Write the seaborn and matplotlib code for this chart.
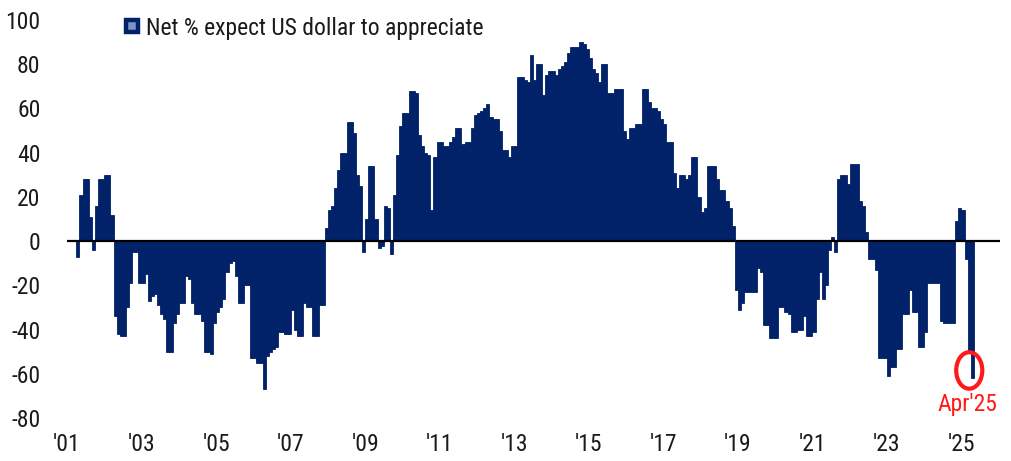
#!/usr/bin/env python3
"""
BofA-style bar chart: net % of fund managers expecting the US dollar to appreciate.
"""
import numpy as np
import pandas as pd
import matplotlib
matplotlib.use("Agg")
import matplotlib.pyplot as plt
import seaborn as sns
from matplotlib import font_manager
from matplotlib.lines import Line2D
from matplotlib.patches import Ellipse

sns.set_style("white")

NAVY = "#012169"
RED = "#ff1a1a"
TEXT = "#1a1a1a"

# monthly series, first value is Apr 2001, last value is Apr 2025
first_year, first_month = 2001, 4
net_pct = [
    -7, 21, 28, 28, 11, -4, 16, 28, 28,                       # 2001 (Apr-Dec)
    30, 30, 12, -34, -42, -43, -43, -30, -19, -5, -5, -19,    # 2002
    -19, -15, -27, -25, -24, -29, -33, -35, -50, -50, -37, -33,  # 2003
    -28, -28, -16, -17, -28, -33, -33, -36, -50, -50, -51, -37,  # 2004
    -32, -30, -26, -14, -10, -9, -16, -28, -28, -20, -20, -53,   # 2005
    -53, -55, -55, -67, -52, -50, -49, -48, -41, -41, -42, -42,  # 2006
    -31, -40, -43, -43, -28, -30, -30, -43, -43, -29, -29, 6,    # 2007
    14, 16, 24, 32, 40, 40, 54, 54, 49, 30, 25, -5,           # 2008
    10, 34, 34, 10, -3, -2, 16, 15, -6, 21, 39, 52,           # 2009
    58, 58, 68, 68, 67, 48, 43, 40, 39, 14, 38, 45,           # 2010
    45, 43, 43, 45, 47, 51, 51, 44, 45, 45, 51, 57,           # 2011
    58, 59, 60, 62, 56, 55, 55, 50, 41, 41, 38, 43,           # 2012
    43, 74, 74, 73, 72, 84, 73, 80, 80, 66, 75, 77,           # 2013
    77, 75, 78, 79, 81, 85, 88, 88, 88, 90, 89, 87,           # 2014
    83, 78, 76, 72, 80, 80, 67, 67, 69, 69, 69, 50,           # 2015
    46, 51, 51, 53, 53, 69, 69, 63, 60, 60, 59, 55,           # 2016
    53, 45, 45, 31, 24, 30, 30, 28, 30, 38, 38, 20,           # 2017
    13, 15, 34, 34, 34, 28, 23, 23, 18, 15, 7, -22,           # 2018
    -31, -28, -23, -23, -23, -23, -12, -14, -38, -38, -44, -44,  # 2019
    -44, -30, -30, -32, -33, -41, -41, -40, -40, -34, -43, -43,  # 2020
    -41, -26, -14, -26, -20, -4, 2, -5, 28, 30, 30, 26,       # 2021
    35, 35, 35, 18, 16, 4, -8, -8, -13, -53, -53, -53,        # 2022
    -61, -57, -57, -49, -49, -33, -33, -22, -32, -32, -48, -48,  # 2023
    -41, -19, -19, -19, -19, -36, -37, -37, -37, -37, 9, 15,  # 2024
    14, -8, -50, -62,                                         # 2025 (Jan-Apr)
]
tick_years = list(range(2001, 2026, 2))
xtick_labels = ["'01", "'03", "'05", "'07", "'09", "'11", "'13",
                "'15", "'17", "'19", "'21", "'23", "'25"]
ytick_values = [100, 80, 60, 40, 20, 0, -20, -40, -60, -80]
series_label = "Net % expect US dollar to appreciate"
last_label = "Apr'25"


def pick_font():
    """Use a condensed face when one is installed."""
    fonts = font_manager.fontManager.ttflist
    for name in ["Roboto Condensed", "Liberation Sans Narrow", "Open Sans Condensed",
                 "Noto Sans Condensed"]:
        if any(f.name == name for f in fonts):
            return name, "normal", 17
    for f in fonts:
        if f.name == "DejaVu Sans" and str(f.stretch) in ("condensed", "semi-condensed"):
            return "DejaVu Sans", "condensed", 16
    return "Roboto", "normal", 14


family, stretch, fsize = pick_font()
plt.rcParams["font.family"] = [family, "DejaVu Sans"]
plt.rcParams["font.stretch"] = stretch
plt.rcParams["axes.unicode_minus"] = False

# months counted from Jan 2001, bar centred in its month
month0 = (first_year - 2001) * 12 + first_month - 1
df = pd.DataFrame({
    "pos": month0 + np.arange(len(net_pct)) + 0.5,
    "net_pct": net_pct,
})

fig = plt.figure(figsize=(10.12, 4.61), dpi=100)
ax = fig.add_axes([67 / 1012, 1 - 418 / 461, 933 / 1012, 398 / 461])

sns.barplot(data=df, x="pos", y="net_pct", native_scale=True, width=1.0,
            color=NAVY, saturation=1, errorbar=None,
            linewidth=0.6, edgecolor=NAVY, ax=ax)

ax.axhline(0, color="black", lw=1.6, zorder=5)

ax.set_xlim(0, 300.4)
ax.set_ylim(-80, 100)
ax.set_xticks([(y - 2001) * 12 for y in tick_years])
ax.set_xticklabels(xtick_labels)
ax.set_yticks(ytick_values)
ax.set_yticklabels([str(v) for v in ytick_values])
ax.tick_params(axis="y", length=0, pad=19, labelsize=fsize, labelcolor=TEXT)
ax.tick_params(axis="x", length=0, pad=11, labelsize=fsize, labelcolor=TEXT)
for lab in ax.get_yticklabels():
    lab.set_horizontalalignment("right")
ax.set_xlabel("")
ax.set_ylabel("")
sns.despine(ax=ax, left=True, bottom=True)

# legend with a boxed square swatch
handle = Line2D([], [], marker="s", linestyle="none", markersize=8,
                markerfacecolor="#7f93c4", markeredgecolor=NAVY, markeredgewidth=3.2)
ax.legend([handle], [series_label], loc="center left",
          bbox_to_anchor=(121 / 1012, 1 - 28 / 461), bbox_transform=fig.transFigure,
          frameon=False, borderpad=0, borderaxespad=0, handlelength=0.9,
          handletextpad=0.15, fontsize=fsize, labelcolor=TEXT)

# highlight the latest reading
last_x = df["pos"].iloc[-1]
last_y = df["net_pct"].iloc[-1]
ax.add_patch(Ellipse((last_x - 1.0, last_y + 3.5), width=8.4, height=16.5,
                     fill=False, edgecolor=RED, lw=3, zorder=6, clip_on=False))
ax.text(last_x - 1.6, last_y - 12, last_label, color=RED, fontsize=fsize,
        ha="center", va="center", clip_on=False)

fig.savefig("out.png", dpi=100)
